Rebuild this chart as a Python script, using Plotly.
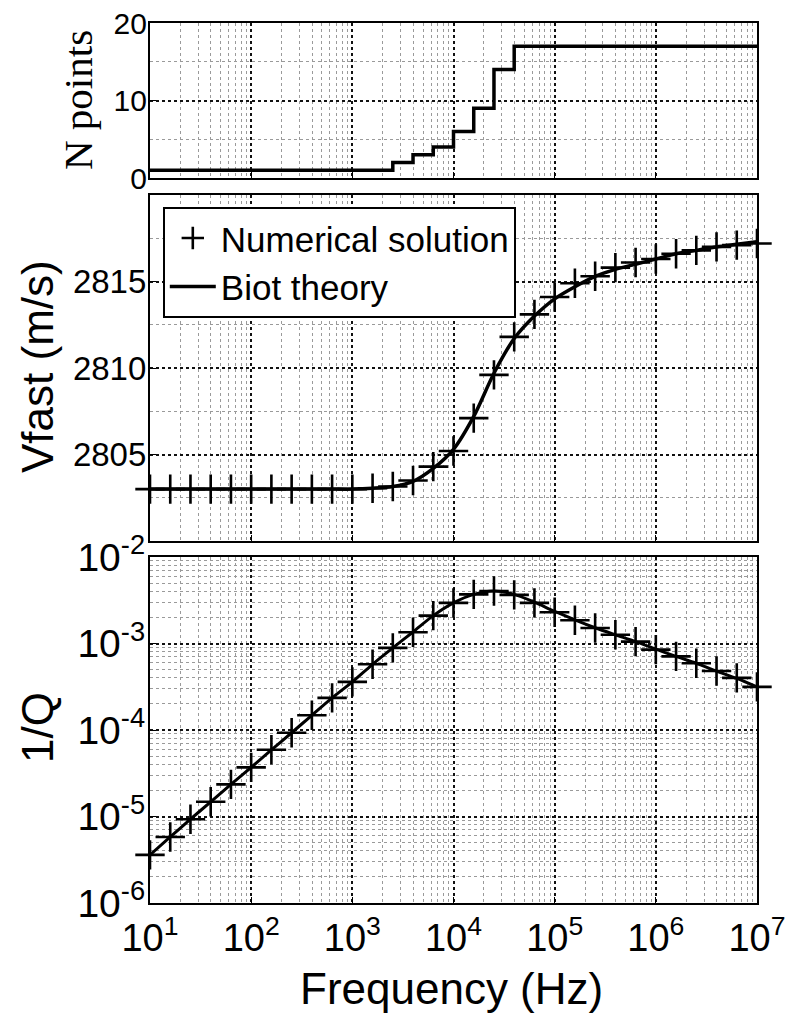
import plotly.graph_objects as go

# ---------------- data ----------------
freq_hz = [10, 15.85, 25.12, 39.81, 63.1, 100, 158.5, 251.2, 398.1, 631,
           1000, 1585, 2512, 3981, 6310, 1e4, 1.585e4, 2.512e4, 3.981e4, 6.31e4,
           1e5, 1.585e5, 2.512e5, 3.981e5, 6.31e5, 1e6, 1.585e6, 2.512e6, 3.981e6,
           6.31e6, 1e7]

n_points = [1, 1, 1, 1, 1, 1, 1, 1, 1, 1,
            1, 1, 2, 3, 4, 6, 9, 14, 17, 17,
            17, 17, 17, 17, 17, 17, 17, 17, 17, 17, 17]

vfast_numerical = [2803.0, 2803.0, 2803.0, 2803.0, 2803.0, 2803.0, 2803.0, 2803.0, 2803.0, 2803.0,
                   2803.0, 2803.05, 2803.15, 2803.5, 2804.3, 2805.2, 2807.1, 2809.6, 2811.8, 2813.1,
                   2814.1, 2814.9, 2815.3, 2815.8, 2816.1, 2816.3, 2816.6, 2816.8, 2817.0, 2817.1,
                   2817.2]
vfast_biot = [2803.0, 2803.0, 2803.0, 2803.0, 2803.0, 2803.0, 2803.0, 2803.0, 2803.0, 2803.0,
              2803.0, 2803.05, 2803.15, 2803.45, 2804.2, 2805.3, 2807.2, 2809.7, 2811.7, 2813.0,
              2814.0, 2814.7, 2815.3, 2815.7, 2816.0, 2816.3, 2816.6, 2816.8, 2817.0, 2817.15,
              2817.3]

invq_numerical = [3.6e-6, 5.8e-6, 9.3e-6, 1.48e-5, 2.35e-5, 3.7e-5, 5.9e-5, 9.3e-5, 1.48e-4, 2.35e-4,
                  3.6e-4, 5.75e-4, 8.9e-4, 1.35e-3, 2.1e-3, 2.95e-3, 3.7e-3, 4.05e-3, 3.65e-3, 2.95e-3,
                  2.3e-3, 1.86e-3, 1.51e-3, 1.26e-3, 1.05e-3, 8.5e-4, 7.1e-4, 5.9e-4, 4.8e-4, 4.0e-4,
                  3.15e-4]
invq_biot = [3.6e-6, 5.8e-6, 9.3e-6, 1.48e-5, 2.35e-5, 3.7e-5, 5.9e-5, 9.3e-5, 1.48e-4, 2.35e-4,
             3.6e-4, 5.75e-4, 8.9e-4, 1.36e-3, 2.1e-3, 2.95e-3, 3.7e-3, 4.05e-3, 3.7e-3, 3.0e-3,
             2.35e-3, 1.88e-3, 1.52e-3, 1.26e-3, 1.05e-3, 8.6e-4, 7.1e-4, 5.9e-4, 4.8e-4, 3.95e-4,
             3.15e-4]

x_tickvals = [1e1, 1e2, 1e3, 1e4, 1e5, 1e6, 1e7]
x_ticktext = ["10<sup>1</sup>", "10<sup>2</sup>", "10<sup>3</sup>", "10<sup>4</sup>",
              "10<sup>5</sup>", "10<sup>6</sup>", "10<sup>7</sup>"]
n_tickvals = [0, 10, 20]
n_ticktext = ["0", "10", "20"]
v_tickvals = [2805, 2810, 2815]
v_ticktext = ["2805", "2810", "2815"]
q_tickvals = [1e-6, 1e-5, 1e-4, 1e-3, 1e-2]
q_ticktext = ["10<sup>-6</sup>", "10<sup>-5</sup>", "10<sup>-4</sup>", "10<sup>-3</sup>", "10<sup>-2</sup>"]

# ---------------- layout helpers ----------------
W, H = 794, 1020
OFF = 0  # body margin is removed in the page (see post_script)


def px(x):
    return (x - OFF) / W


def py(y):
    return 1 - (y - OFF) / H


SANS = "Liberation Sans, Arial, sans-serif"
SERIF = "Liberation Serif, Times New Roman, serif"

x_dom = [px(150), px(757)]
top_dom = [py(178), py(23)]
mid_dom = [py(541), py(195)]
bot_dom = [py(903), py(557)]

fig = go.Figure()

cross = dict(symbol="cross-thin", size=21, color="black", line=dict(width=2.6, color="black"))

# top panel
fig.add_trace(go.Scatter(x=freq_hz, y=n_points, mode="lines", line=dict(color="black", width=3.5, shape="hv"),
                         xaxis="x", yaxis="y", showlegend=False))
# middle panel
fig.add_trace(go.Scatter(x=freq_hz, y=vfast_biot, mode="lines", name="Biot theory",
                         line=dict(color="black", width=3.5, shape="spline", smoothing=0.8),
                         xaxis="x2", yaxis="y2", legendrank=2))
fig.add_trace(go.Scatter(x=freq_hz, y=vfast_numerical, mode="markers", name="Numerical solution",
                         marker=cross, xaxis="x2", yaxis="y2", cliponaxis=False, legendrank=1))
# bottom panel
fig.add_trace(go.Scatter(x=freq_hz, y=invq_biot, mode="lines", line=dict(color="black", width=3, shape="spline", smoothing=0.8),
                         xaxis="x3", yaxis="y3", showlegend=False))
fig.add_trace(go.Scatter(x=freq_hz, y=invq_numerical, mode="markers", marker=cross,
                         xaxis="x3", yaxis="y3", cliponaxis=False, showlegend=False))

major_grid = dict(showgrid=True, gridcolor="#111111", gridwidth=1.6, griddash="dot")
minor_grid_log = dict(dtick="D1", showgrid=True, gridcolor="#9a9a9a", gridwidth=1, griddash="dot", ticks="")
axis_common = dict(showline=True, linecolor="black", linewidth=2.2, mirror=True, ticks="inside",
                   ticklen=6, tickcolor="black", zeroline=False, automargin=False,
                   ticklabeloverflow="allow")

for name, anchor, show in (("xaxis", "y", False), ("xaxis2", "y2", False), ("xaxis3", "y3", True)):
    fig.update_layout({name: dict(type="log", range=[1, 7], domain=x_dom, anchor=anchor,
                                  tickmode="array", tickvals=x_tickvals, ticktext=x_ticktext,
                                  showticklabels=show, tickfont=dict(family=SANS, size=38, color="black"),
                                  minor=minor_grid_log, **major_grid, **axis_common)})

fig.update_layout(
    yaxis=dict(range=[0, 20], domain=top_dom, anchor="x", tickmode="array", tickvals=n_tickvals,
               ticktext=n_ticktext, tickfont=dict(family=SANS, size=30, color="black"),
               ticklabelstandoff=-5,
               minor=dict(dtick=5, showgrid=True, gridcolor="#9a9a9a", gridwidth=1, griddash="dot"),
               **major_grid, **axis_common),
    yaxis2=dict(range=[2800, 2820], domain=mid_dom, anchor="x2", tickmode="array", tickvals=v_tickvals,
                ticktext=v_ticktext, tickfont=dict(family=SANS, size=33, color="black"),
                ticklabelstandoff=-5,
                minor=dict(dtick=2.5, tick0=2800, showgrid=True, gridcolor="#9a9a9a", gridwidth=1, griddash="dot"),
                **major_grid, **axis_common),
    yaxis3=dict(type="log", range=[-6, -2], domain=bot_dom, anchor="x3", tickmode="array",
                tickvals=q_tickvals, ticktext=q_ticktext, tickfont=dict(family=SANS, size=39, color="black"),
                ticklabelstandoff=-5,
                minor=minor_grid_log, **major_grid, **axis_common),
)

annots = [
    dict(text="N points", x=px(78), y=py(100), textangle=-90, font=dict(family=SERIF, size=41, color="black")),
    dict(text="Vfast (m/s)", x=px(37), y=py(367), textangle=-90, font=dict(family=SANS, size=44, color="black")),
    dict(text="1/Q", x=px(37), y=py(728), textangle=-90, font=dict(family=SANS, size=44, color="black")),
    dict(text="Frequency (Hz)", x=px(452), y=py(988), font=dict(family=SANS, size=44, color="black")),
]
for a in annots:
    fig.add_annotation(xref="paper", yref="paper", xanchor="center", yanchor="middle", showarrow=False, **a)

fig.update_layout(
    template="none",
    width=W, height=H, margin=dict(l=0, r=0, t=0, b=0),
    paper_bgcolor="white", plot_bgcolor="white",
    showlegend=True,
    legend=dict(x=px(163), y=py(207), xanchor="left", yanchor="top", bgcolor="white",
                bordercolor="black", borderwidth=1.8, font=dict(family=SANS, size=35, color="black"),
                tracegroupgap=0, itemwidth=46),
)

fig.write_html("out.html", config={"displayModeBar": False},
               post_script="document.body.style.margin='0';document.body.style.overflow='hidden';")
